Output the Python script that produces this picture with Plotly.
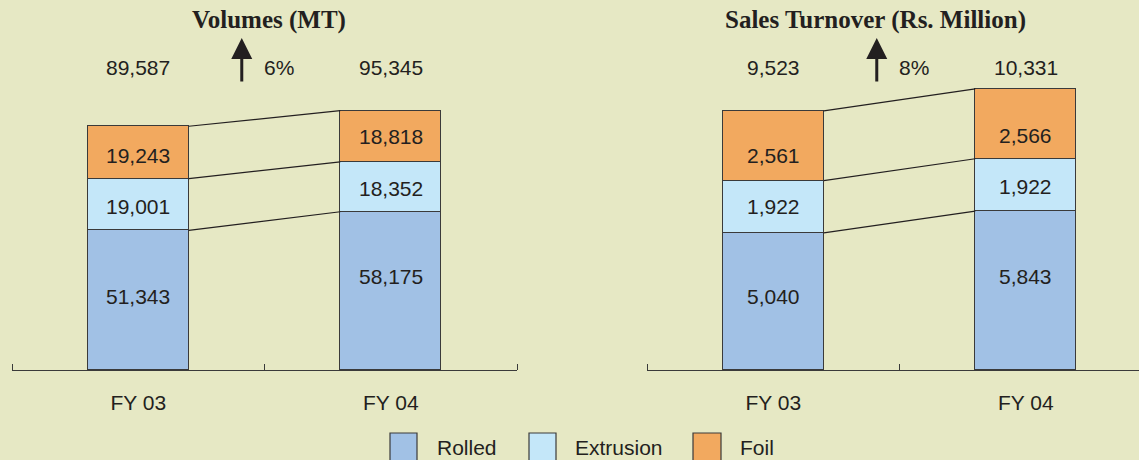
import plotly.graph_objects as go

# ---------------- data ----------------
categories = ["FY 03", "FY 04"]
series_names = ["Rolled", "Extrusion", "Foil"]

volumes_rolled = [51343, 58175]
volumes_extrusion = [19001, 18352]
volumes_foil = [19243, 18818]
volumes_total = [89587, 95345]
volumes_growth = "6%"
volumes_title = "Volumes (MT)"

sales_rolled = [5040, 5843]
sales_extrusion = [1922, 1922]
sales_foil = [2561, 2566]
sales_total = [9523, 10331]
sales_growth = "8%"
sales_title = "Sales Turnover (Rs. Million)"

# ---------------- styles ----------------
W, H = 1139, 460
BG = "#E6E8C4"
INK = "#231F20"
EDGE = "#3A3A3A"
colors = ["#A1C1E5", "#C4E7F9", "#F2A95F"]
SANS = "Liberation Sans, Arial, sans-serif"
SERIF = "Liberation Serif, Times New Roman, serif"
FS = 21
# small vertical nudges (px) for the in-bar labels, per series / category
label_offsets_vol = [[4, 14], [-2, -2], [-3, 0]]
label_offsets_sales = [[5, 14], [0, -2], [-10, -12]]

bar_width = 0.4
axis_bottom_px = 370
ydom = [(H - axis_bottom_px) / H, 1.0]
x_positions = list(range(len(categories)))

panels = [
    dict(xa="x", ya="y", parts=[volumes_rolled, volumes_extrusion, volumes_foil],
         totals=volumes_total, growth=volumes_growth, title=volumes_title,
         offs=label_offsets_vol, ymax=136000, xdom=[12 / W, 517 / W],
         xrange=[-0.5, 1.5], title_x=269 / W),
    dict(xa="x2", ya="y2", parts=[sales_rolled, sales_extrusion, sales_foil],
         totals=sales_total, growth=sales_growth, title=sales_title,
         offs=label_offsets_sales, ymax=13600, xdom=[647 / W, 1.0],
         xrange=[-0.5, -0.5 + (W - 647) / 252.5], title_x=875 / W),
]

fig = go.Figure()
annotations = []
shapes = []

def py(px_from_top):
    return (H - px_from_top) / H

for p in panels:
    xref = p["xa"]
    yref = p["ya"]
    cum = [[0] * len(categories)]
    for si, (name, vals) in enumerate(zip(series_names, p["parts"])):
        fig.add_trace(go.Bar(
            x=x_positions, y=vals, name=name, width=bar_width,
            marker=dict(color=colors[si], line=dict(color=EDGE, width=1.3)),
            xaxis=xref, yaxis=yref, showlegend=False, hoverinfo="skip",
        ))
        base = cum[-1]
        top = [b + v for b, v in zip(base, vals)]
        cum.append(top)
        for ci, v in enumerate(vals):
            annotations.append(dict(
                x=x_positions[ci], y=base[ci] + v / 2, xref=xref, yref=yref,
                text=f"{v:,}", showarrow=False, yshift=p["offs"][si][ci],
                xanchor="center", font=dict(family=SANS, size=FS, color=INK),
            ))
    # connector lines between segment tops
    for top in cum[1:]:
        fig.add_trace(go.Scatter(
            x=[x_positions[0] + bar_width / 2, x_positions[1] - bar_width / 2],
            y=[top[0], top[1]], mode="lines",
            line=dict(color=INK, width=1.2), xaxis=xref, yaxis=yref,
            showlegend=False, hoverinfo="skip",
        ))
    for ci, t in enumerate(p["totals"]):
        annotations.append(dict(
            x=x_positions[ci], y=py(67), xref=xref, yref="paper",
            text=f"{t:,}", showarrow=False, yanchor="middle", xanchor="center",
            font=dict(family=SANS, size=FS, color=INK),
        ))
    annotations.append(dict(
        x=0.41, y=py(38), xref=xref, yref="paper", text="",
        showarrow=True, ax=0, ay=45, arrowhead=2, arrowwidth=3,
        arrowsize=1.4, arrowcolor=INK, standoff=0,
    ))
    annotations.append(dict(
        x=0.556, y=py(67), xref=xref, yref="paper", text=p["growth"],
        showarrow=False, yanchor="middle", xanchor="center",
        font=dict(family=SANS, size=FS, color=INK),
    ))
    annotations.append(dict(
        x=p["title_x"], y=py(20), xref="paper", yref="paper",
        text="<b>" + p["title"] + "</b>", showarrow=False,
        yanchor="middle", xanchor="center",
        font=dict(family=SERIF, size=25, color=INK),
    ))

# custom legend
legend_boxes = [(390, 417), (529, 556), (693, 721)]
legend_text_x = [435, 573, 738]
for (x0, x1), tx, name, col in zip(legend_boxes, legend_text_x, series_names, colors):
    shapes.append(dict(type="rect", xref="paper", yref="paper",
                       x0=x0 / W, x1=x1 / W, y0=-0.05, y1=py(433),
                       fillcolor=col, line=dict(color=EDGE, width=1.2)))
    annotations.append(dict(x=tx / W, y=py(447), xref="paper", yref="paper",
                            text=name, showarrow=False, xanchor="left",
                            yanchor="middle",
                            font=dict(family=SANS, size=FS, color=INK)))

xaxis_common = dict(
    tickmode="array", tickvals=x_positions, ticktext=categories,
    ticks="", showline=True, linecolor=EDGE, linewidth=1.3,
    showgrid=False, zeroline=False,
    tickfont=dict(family=SANS, size=FS, color=INK),
    ticklabelstandoff=14,
    minor=dict(tickmode="array", tickvals=[-0.5, 0.5, 1.5], ticks="inside",
               ticklen=6, tickcolor=EDGE, tickwidth=1.3, showgrid=False),
)
yaxis_common = dict(visible=False, showgrid=False, zeroline=False, domain=ydom)

fig.update_layout(
    width=W, height=H, margin=dict(l=0, r=0, t=0, b=0),
    paper_bgcolor=BG, plot_bgcolor=BG, barmode="stack",
    showlegend=False, bargap=0,
    xaxis=dict(**xaxis_common, domain=panels[0]["xdom"],
               range=panels[0]["xrange"], anchor="y"),
    yaxis=dict(**yaxis_common, range=[0, panels[0]["ymax"]], anchor="x"),
    xaxis2=dict(**xaxis_common, domain=panels[1]["xdom"],
                range=panels[1]["xrange"], anchor="y2"),
    yaxis2=dict(**yaxis_common, range=[0, panels[1]["ymax"]], anchor="x2"),
    annotations=annotations, shapes=shapes,
)

fig.write_html(
    "out.html",
    config={"displayModeBar": False},
    post_script="document.body.style.margin='0';document.body.style.overflow='hidden';",
)
